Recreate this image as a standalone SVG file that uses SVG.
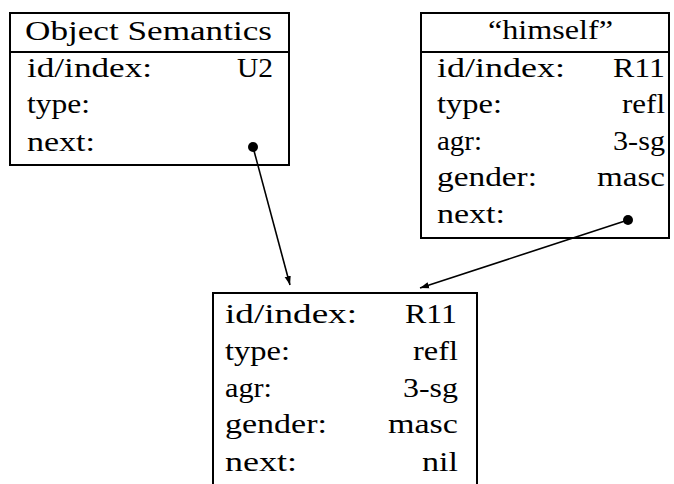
<svg xmlns="http://www.w3.org/2000/svg" width="674" height="484" viewBox="0 0 674 484">
<style>
.box{fill:none;stroke:#000;stroke-width:2}
.t{font-family:"Liberation Serif","Times New Roman",serif;font-size:27px;fill:#000}
.h{font-size:28px}
.v{text-anchor:end}
.c{stroke:#000;stroke-width:1.6;fill:none}
</style>
<defs>
<marker id="ah" viewBox="0 0 10 10" refX="10" refY="5" markerWidth="9" markerHeight="9" markerUnits="userSpaceOnUse" orient="auto">
<path d="M0,1.5 L10,5 L0,8.5 Z" fill="#000"/>
</marker>
</defs>
<g id="object-semantics">
<rect class="box" x="10" y="13" width="279" height="152"/>
<line class="box" x1="10" y1="52" x2="289" y2="52"/>
<text class="t h" x="25" y="40" textLength="247" lengthAdjust="spacingAndGlyphs">Object Semantics</text>
<text class="t" x="27" y="77" textLength="125" lengthAdjust="spacingAndGlyphs">id/index:</text>
<text class="t v" x="273" y="77" textLength="36" lengthAdjust="spacingAndGlyphs">U2</text>
<text class="t" x="27" y="113" textLength="63" lengthAdjust="spacingAndGlyphs">type:</text>
<text class="t" x="27" y="151" textLength="68" lengthAdjust="spacingAndGlyphs">next:</text>
<circle cx="253" cy="147" r="5" fill="#000"/>
</g>
<g id="himself">
<rect class="box" x="421" y="13" width="248" height="225"/>
<line class="box" x1="421" y1="52" x2="669" y2="52"/>
<text class="t h" x="488" y="39" textLength="125" lengthAdjust="spacingAndGlyphs">“himself”</text>
<text class="t" x="437" y="77" textLength="128" lengthAdjust="spacingAndGlyphs">id/index:</text>
<text class="t v" x="665" y="77" textLength="52" lengthAdjust="spacingAndGlyphs">R11</text>
<text class="t" x="437" y="113" textLength="65" lengthAdjust="spacingAndGlyphs">type:</text>
<text class="t v" x="665" y="113" textLength="43" lengthAdjust="spacingAndGlyphs">refl</text>
<text class="t" x="437" y="150" textLength="45" lengthAdjust="spacingAndGlyphs">agr:</text>
<text class="t v" x="665" y="150" textLength="52" lengthAdjust="spacingAndGlyphs">3-sg</text>
<text class="t" x="437" y="186" textLength="100" lengthAdjust="spacingAndGlyphs">gender:</text>
<text class="t v" x="665" y="186" textLength="68" lengthAdjust="spacingAndGlyphs">masc</text>
<text class="t" x="437" y="223" textLength="68" lengthAdjust="spacingAndGlyphs">next:</text>
<circle cx="628" cy="220" r="5" fill="#000"/>
</g>
<g id="r11">
<path class="box" d="M213,484 V293 H477 V484"/>
<text class="t" x="225" y="323" textLength="132" lengthAdjust="spacingAndGlyphs">id/index:</text>
<text class="t v" x="457" y="323" textLength="52" lengthAdjust="spacingAndGlyphs">R11</text>
<text class="t" x="225" y="360" textLength="65" lengthAdjust="spacingAndGlyphs">type:</text>
<text class="t v" x="458" y="360" textLength="45" lengthAdjust="spacingAndGlyphs">refl</text>
<text class="t" x="225" y="397" textLength="47" lengthAdjust="spacingAndGlyphs">agr:</text>
<text class="t v" x="458" y="397" textLength="55" lengthAdjust="spacingAndGlyphs">3-sg</text>
<text class="t" x="225" y="433" textLength="102" lengthAdjust="spacingAndGlyphs">gender:</text>
<text class="t v" x="458" y="433" textLength="70" lengthAdjust="spacingAndGlyphs">masc</text>
<text class="t" x="225" y="471" textLength="72" lengthAdjust="spacingAndGlyphs">next:</text>
<text class="t v" x="458" y="471" textLength="36" lengthAdjust="spacingAndGlyphs">nil</text>
</g>
<g id="connectors">
<line class="c" x1="253" y1="147" x2="290" y2="285" marker-end="url(#ah)"/>
<line class="c" x1="628" y1="220" x2="420" y2="288" marker-end="url(#ah)"/>
</g>
</svg>
